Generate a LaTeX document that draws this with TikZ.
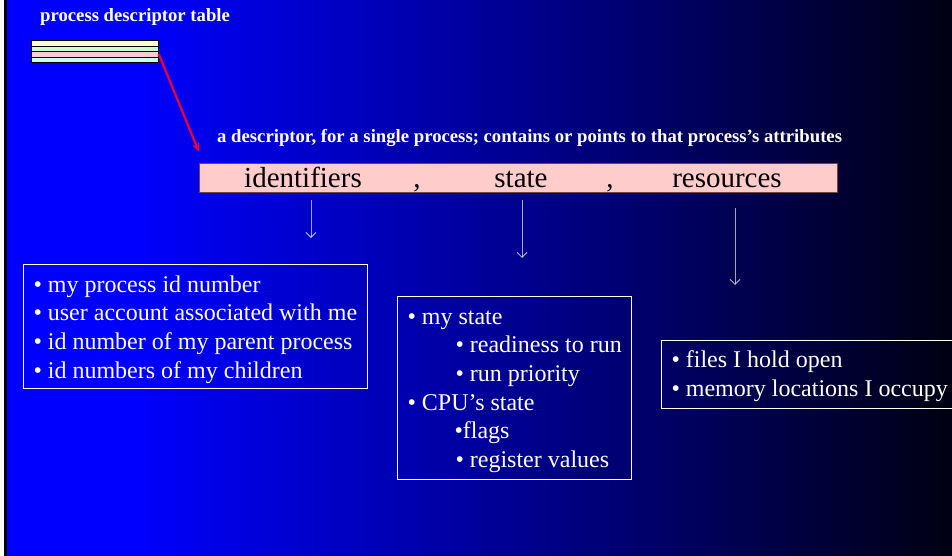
\documentclass[tikz,border=0pt]{standalone}
\usepackage{fontspec}
\setmainfont{Liberation Serif}
\usepackage{xcolor}
\usepackage{tikz}
\usetikzlibrary{arrows.meta}

\definecolor{rowyellow}{RGB}{255,255,204}
\definecolor{rowgreen}{RGB}{204,255,204}
\definecolor{rowpink}{RGB}{255,204,204}
\definecolor{rowcyan}{RGB}{204,255,255}
\definecolor{barline}{RGB}{110,70,70}
\definecolor{linkred}{RGB}{240,0,50}
\definecolor{deepnavy}{RGB}{0,0,18}

\begin{document}
\begin{tikzpicture}[x=1pt, y=-1pt,
    headline/.style={text=white, font=\bfseries\fontsize{18.7}{22}\selectfont, anchor=west, inner sep=0pt},
    row/.style={draw=black, line width=0.8pt, minimum width=127pt, minimum height=5.5pt, inner sep=0pt, anchor=north west},
    bartext/.style={text=black, font=\fontsize{29}{32}\selectfont, anchor=base, inner sep=0pt},
    listbox/.style={draw=white, line width=1pt, text=white, align=left, anchor=north west,
        inner xsep=10pt, inner ysep=0pt, text depth=11.5pt,
        font=\fontsize{24}{28.7}\selectfont},
    pointer/.style={-{Straight Barb[length=5pt,width=10pt]}, white, opacity=0.65, line width=1pt}]

    % slide background
    \useasboundingbox (0,0) rectangle (952,555);
    \fill[white] (-2,-2) rectangle (954,557);
    \fill[black] (4,-2) rectangle (7,557);
    \fill[blue] (7,-2) rectangle (131,557);
    \shade[left color=blue, right color=deepnavy] (130,-2) rectangle (954,557);

    % process descriptor table
    \node[headline] (tbltitle) at (40,17) {process descriptor table};
    \foreach \c [count=\i] in {rowyellow, rowgreen, rowpink, rowcyan}
        \node[row, fill=\c] (row\i) at (31,{40+5.5*(\i-1)}) {};

    % a single descriptor
    \node[headline] (caption) at (217,138)
        {a descriptor, for a single process; contains or points to that process’s attributes};
    \node[draw=barline, line width=1pt, fill=rowpink, minimum width=638pt, minimum height=29pt,
        inner sep=0pt, anchor=north west] (bar) at (199,163) {};
    \node[bartext] (idf) at (303,187) {identifiers};
    \node[bartext] (comma1) at (417,187) {,};
    \node[bartext] (st) at (521,187) {state};
    \node[bartext] (comma2) at (610,187) {,};
    \node[bartext] (res) at (727,187) {resources};

    \draw[linkred, line width=2.2pt, -{Stealth[length=9pt,width=7pt]}]
        (row3.east) -- ([yshift=11pt]bar.north west);

    % pointers down to the details
    \coordinate (idfa) at (311,200);
    \coordinate (idfb) at (311,238);
    \coordinate (sta) at (522,200);
    \coordinate (stb) at (522,258);
    \coordinate (resa) at (735,208);
    \coordinate (resb) at (735,285);
    \draw[pointer] (idfa) -- (idfb);
    \draw[pointer] (sta) -- (stb);
    \draw[pointer] (resa) -- (resb);

    % what each part holds
    \node[listbox, text height=113.6pt, text depth=10.5pt] (idbox) at (23,264)
        {• my process id number\\
         • user account associated with me\\
         • id number of my parent process\\
         • id numbers of my children};
    \node[listbox, text height=171pt, text depth=12pt] (stbox) at (397,296)
        {• my state\\
         \hspace*{48pt}• readiness to run\\
         \hspace*{48pt}• run priority\\
         • CPU’s state\\
         \hspace*{47pt}•flags\\
         \hspace*{48pt}• register values};
    \node[listbox, text height=55.5pt, text depth=12pt] (resbox) at (661,340)
        {• files I hold open\\
         • memory locations I occupy};
\end{tikzpicture}
\end{document}
